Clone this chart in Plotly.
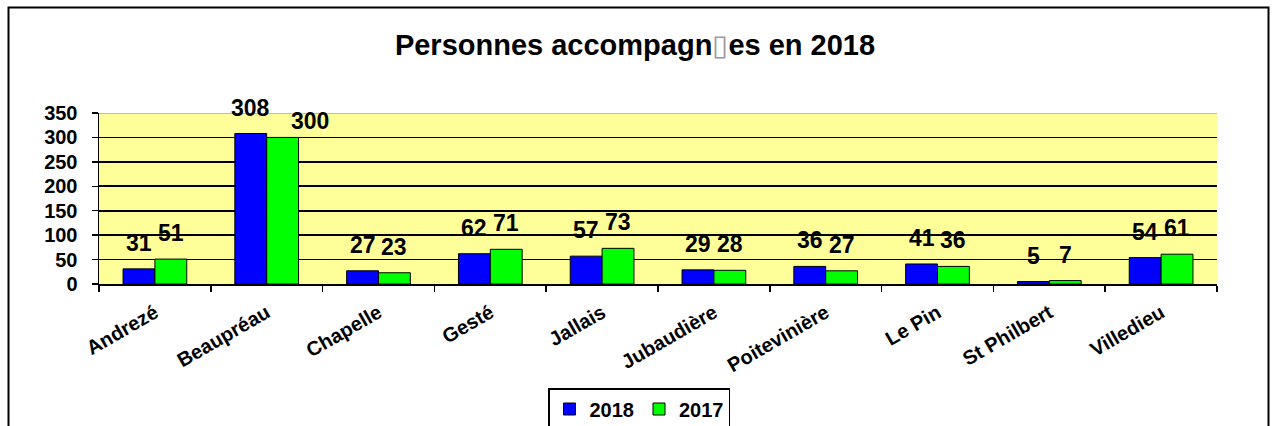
import plotly.graph_objects as go

categories = ["Andrezé", "Beaupréau", "Chapelle", "Gesté", "Jallais",
              "Jubaudière", "Poitevinière", "Le Pin", "St Philbert", "Villedieu"]
values_2018 = [31, 308, 27, 62, 57, 29, 36, 41, 5, 54]
values_2017 = [51, 300, 23, 71, 73, 28, 27, 36, 7, 61]
series_names = ["2018", "2017"]
y_ticks = [0, 50, 100, 150, 200, 250, 300, 350]
# labels that were moved aside in the original chart: (category, series) -> (dx, dy) in px
label_moves = {("Beaupréau", "2017"): (27, -10)}

W, H = 1274, 426
L, R, T, B = 99, 1217, 113, 284
FONT = "Liberation Sans, Arial, sans-serif"
BARGAP = 0.43

def px_x(p):
    return (p - L) / (R - L)

def px_y(p):
    return (B - p) / (B - T)

fig = go.Figure()
fig.add_trace(go.Bar(x=categories, y=values_2018, name=series_names[0],
                     marker=dict(color="#0000FF", line=dict(color="black", width=1))))
fig.add_trace(go.Bar(x=categories, y=values_2017, name=series_names[1],
                     marker=dict(color="#00FF00", line=dict(color="black", width=1))))

cat_w = (R - L) / len(categories)
bar_w = cat_w * (1 - BARGAP) / 2
annotations = []
for name, vals, sh in ((series_names[0], values_2018, -bar_w / 2),
                       (series_names[1], values_2017, bar_w / 2)):
    for c, v in zip(categories, vals):
        dx, dy = label_moves.get((c, name), (0, 0))
        annotations.append(dict(x=c, y=v, xref="x", yref="y", text=str(v),
                                showarrow=False, xshift=sh + dx, yshift=11 + dy,
                                yanchor="bottom",
                                font=dict(family=FONT, size=23, color="black", weight="bold")))

shapes = [
    # outer chart frame
    dict(type="rect", xref="paper", yref="paper", x0=px_x(8.5), x1=px_x(1268.5),
         y0=px_y(440), y1=px_y(7.5), line=dict(color="black", width=2), layer="above"),
    # plot area top border
    dict(type="line", xref="paper", yref="y", x0=0, x1=1, y0=350, y1=350,
         line=dict(color="#B0B080", width=1.5), layer="above"),
]

fig.update_layout(
    width=W, height=H,
    margin=dict(l=L, r=W - R, t=T, b=H - B, autoexpand=False),
    paper_bgcolor="white", plot_bgcolor="#FFFF99",
    barmode="group", bargap=BARGAP, bargroupgap=0,
    hovermode=False,
    title=dict(text="Personnes accompagn<span style='color:#999;font-weight:normal'>▯</span>es en 2018",
               x=635 / W, xref="container", xanchor="center",
               y=1 - 45 / H, yref="container", yanchor="middle",
               font=dict(family=FONT, size=29, color="black", weight="bold")),
    xaxis=dict(type="category", tickson="boundaries", ticks="outside", ticklen=6,
               tickcolor="black", tickwidth=1.5, showline=True, linecolor="black", linewidth=1.5,
               tickangle=-30, ticklabelstandoff=8,
               tickfont=dict(family=FONT, size=20, color="black", weight="bold")),
    yaxis=dict(range=[0, 350], tickvals=y_ticks, ticks="outside", ticklen=6,
               tickcolor="black", tickwidth=1.5, showline=True, linecolor="black", linewidth=1.5,
               showgrid=True, gridcolor="black", gridwidth=1.6, zeroline=False,
               ticklabelstandoff=10,
               tickfont=dict(family=FONT, size=20, color="black", weight="bold")),
    legend=dict(orientation="h", x=px_x(639), xanchor="center", y=px_y(388), yanchor="top",
                bordercolor="black", borderwidth=1.5, bgcolor="white",
                font=dict(family=FONT, size=20, color="black", weight="bold"),
                itemwidth=30),
    annotations=annotations, shapes=shapes,
)

fig.write_html("out.html", config={"displayModeBar": False, "staticPlot": True},
               post_script="document.body.style.margin='0';document.body.style.overflow='hidden';")
